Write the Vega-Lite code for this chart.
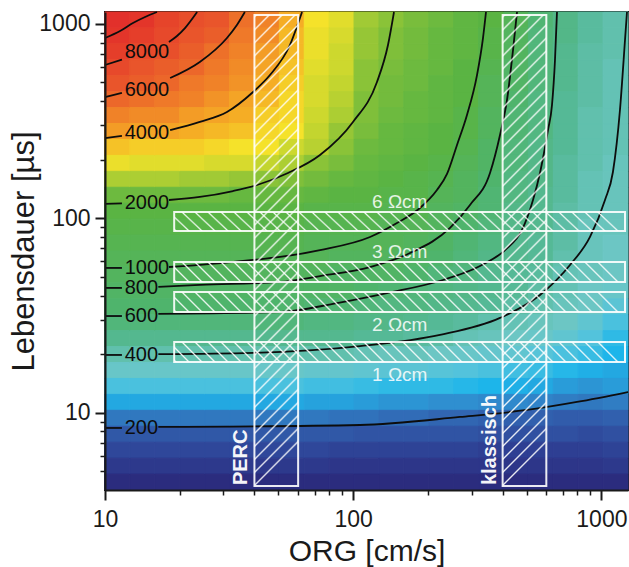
{
"$schema":"https://vega.github.io/schema/vega-lite/v6.json",
"width":523,"height":478,
"autosize":{"type":"none"},
"padding":{"left":105,"top":12,"right":1,"bottom":77},
"background":"white",
"config":{"view":{"stroke":"#1a1a1a","strokeWidth":2},"font":"Liberation Sans"},
"datasets":{
"heat":[
{"s":11.2,"t":1046,"v":100},{"s":11.2,"t":867,"v":98},{"s":11.2,"t":717,"v":96},{"s":11.2,"t":594,"v":94},{"s":11.2,"t":492,"v":92},{"s":11.2,"t":407,"v":90},{"s":11.2,"t":337,"v":87},{"s":11.2,"t":279,"v":84},{"s":11.2,"t":231,"v":80},{"s":11.2,"t":191,"v":76},{"s":11.2,"t":159,"v":70},{"s":11.2,"t":131,"v":63},{"s":11.2,"t":109,"v":60},{"s":11.2,"t":90,"v":59},{"s":11.2,"t":74.5,"v":58},{"s":11.2,"t":61.7,"v":57},{"s":11.2,"t":51.1,"v":56},{"s":11.2,"t":42.3,"v":55},{"s":11.2,"t":35,"v":54},{"s":11.2,"t":29,"v":52},{"s":11.2,"t":24,"v":49},{"s":11.2,"t":19.9,"v":45},{"s":11.2,"t":16.5,"v":41},{"s":11.2,"t":13.6,"v":35},{"s":11.2,"t":11.3,"v":28},{"s":11.2,"t":9.35,"v":20},{"s":11.2,"t":7.74,"v":14},{"s":11.2,"t":6.41,"v":10},{"s":11.2,"t":5.31,"v":6},{"s":11.2,"t":4.4,"v":2},
{"s":14.1,"t":1046,"v":98},{"s":14.1,"t":867,"v":96},{"s":14.1,"t":717,"v":94},{"s":14.1,"t":594,"v":92},{"s":14.1,"t":492,"v":91},{"s":14.1,"t":407,"v":89},{"s":14.1,"t":337,"v":86},{"s":14.1,"t":279,"v":83},{"s":14.1,"t":231,"v":79},{"s":14.1,"t":191,"v":75},{"s":14.1,"t":159,"v":70},{"s":14.1,"t":131,"v":63},{"s":14.1,"t":109,"v":60},{"s":14.1,"t":90,"v":59},{"s":14.1,"t":74.5,"v":58},{"s":14.1,"t":61.7,"v":57},{"s":14.1,"t":51.1,"v":56},{"s":14.1,"t":42.3,"v":55},{"s":14.1,"t":35,"v":54},{"s":14.1,"t":29,"v":52},{"s":14.1,"t":24,"v":49},{"s":14.1,"t":19.9,"v":45},{"s":14.1,"t":16.5,"v":41},{"s":14.1,"t":13.6,"v":35},{"s":14.1,"t":11.3,"v":28},{"s":14.1,"t":9.35,"v":20},{"s":14.1,"t":7.74,"v":14},{"s":14.1,"t":6.41,"v":10},{"s":14.1,"t":5.31,"v":6},{"s":14.1,"t":4.4,"v":2},
{"s":17.8,"t":1046,"v":95},{"s":17.8,"t":867,"v":94},{"s":17.8,"t":717,"v":93},{"s":17.8,"t":594,"v":91},{"s":17.8,"t":492,"v":90},{"s":17.8,"t":407,"v":88},{"s":17.8,"t":337,"v":86},{"s":17.8,"t":279,"v":83},{"s":17.8,"t":231,"v":79},{"s":17.8,"t":191,"v":75},{"s":17.8,"t":159,"v":70},{"s":17.8,"t":131,"v":63},{"s":17.8,"t":109,"v":60},{"s":17.8,"t":90,"v":59},{"s":17.8,"t":74.5,"v":58},{"s":17.8,"t":61.7,"v":57},{"s":17.8,"t":51.1,"v":56},{"s":17.8,"t":42.3,"v":55},{"s":17.8,"t":35,"v":54},{"s":17.8,"t":29,"v":52},{"s":17.8,"t":24,"v":49},{"s":17.8,"t":19.9,"v":45},{"s":17.8,"t":16.5,"v":41},{"s":17.8,"t":13.6,"v":35},{"s":17.8,"t":11.3,"v":28},{"s":17.8,"t":9.35,"v":20},{"s":17.8,"t":7.74,"v":14},{"s":17.8,"t":6.41,"v":10},{"s":17.8,"t":5.31,"v":6},{"s":17.8,"t":4.4,"v":2},
{"s":22.5,"t":1046,"v":93},{"s":22.5,"t":867,"v":92},{"s":22.5,"t":717,"v":91},{"s":22.5,"t":594,"v":90},{"s":22.5,"t":492,"v":88},{"s":22.5,"t":407,"v":87},{"s":22.5,"t":337,"v":84},{"s":22.5,"t":279,"v":82},{"s":22.5,"t":231,"v":79},{"s":22.5,"t":191,"v":75},{"s":22.5,"t":159,"v":69},{"s":22.5,"t":131,"v":63},{"s":22.5,"t":109,"v":60},{"s":22.5,"t":90,"v":59},{"s":22.5,"t":74.5,"v":58},{"s":22.5,"t":61.7,"v":57},{"s":22.5,"t":51.1,"v":56},{"s":22.5,"t":42.3,"v":55},{"s":22.5,"t":35,"v":54},{"s":22.5,"t":29,"v":52},{"s":22.5,"t":24,"v":49},{"s":22.5,"t":19.9,"v":45},{"s":22.5,"t":16.5,"v":41},{"s":22.5,"t":13.6,"v":35},{"s":22.5,"t":11.3,"v":28},{"s":22.5,"t":9.35,"v":20},{"s":22.5,"t":7.74,"v":14},{"s":22.5,"t":6.41,"v":10},{"s":22.5,"t":5.31,"v":6},{"s":22.5,"t":4.4,"v":2},
{"s":28.3,"t":1046,"v":92},{"s":28.3,"t":867,"v":91},{"s":28.3,"t":717,"v":89},{"s":28.3,"t":594,"v":88},{"s":28.3,"t":492,"v":87},{"s":28.3,"t":407,"v":85},{"s":28.3,"t":337,"v":83},{"s":28.3,"t":279,"v":81},{"s":28.3,"t":231,"v":78},{"s":28.3,"t":191,"v":74},{"s":28.3,"t":159,"v":69},{"s":28.3,"t":131,"v":63},{"s":28.3,"t":109,"v":60},{"s":28.3,"t":90,"v":59},{"s":28.3,"t":74.5,"v":58},{"s":28.3,"t":61.7,"v":57},{"s":28.3,"t":51.1,"v":56},{"s":28.3,"t":42.3,"v":55},{"s":28.3,"t":35,"v":54},{"s":28.3,"t":29,"v":52},{"s":28.3,"t":24,"v":49},{"s":28.3,"t":19.9,"v":45},{"s":28.3,"t":16.5,"v":41},{"s":28.3,"t":13.6,"v":35},{"s":28.3,"t":11.3,"v":28},{"s":28.3,"t":9.35,"v":20},{"s":28.3,"t":7.74,"v":14},{"s":28.3,"t":6.41,"v":10},{"s":28.3,"t":5.31,"v":6},{"s":28.3,"t":4.4,"v":2},
{"s":35.6,"t":1046,"v":89},{"s":35.6,"t":867,"v":88},{"s":35.6,"t":717,"v":87},{"s":35.6,"t":594,"v":86},{"s":35.6,"t":492,"v":85},{"s":35.6,"t":407,"v":83},{"s":35.6,"t":337,"v":82},{"s":35.6,"t":279,"v":80},{"s":35.6,"t":231,"v":77},{"s":35.6,"t":191,"v":74},{"s":35.6,"t":159,"v":68},{"s":35.6,"t":131,"v":62},{"s":35.6,"t":109,"v":60},{"s":35.6,"t":90,"v":59},{"s":35.6,"t":74.5,"v":58},{"s":35.6,"t":61.7,"v":57},{"s":35.6,"t":51.1,"v":56},{"s":35.6,"t":42.3,"v":55},{"s":35.6,"t":35,"v":54},{"s":35.6,"t":29,"v":52},{"s":35.6,"t":24,"v":49},{"s":35.6,"t":19.9,"v":45},{"s":35.6,"t":16.5,"v":41},{"s":35.6,"t":13.6,"v":35},{"s":35.6,"t":11.3,"v":28},{"s":35.6,"t":9.35,"v":20},{"s":35.6,"t":7.74,"v":14},{"s":35.6,"t":6.41,"v":10},{"s":35.6,"t":5.31,"v":6},{"s":35.6,"t":4.4,"v":2},
{"s":44.9,"t":1046,"v":87},{"s":44.9,"t":867,"v":86},{"s":44.9,"t":717,"v":84},{"s":44.9,"t":594,"v":83},{"s":44.9,"t":492,"v":82},{"s":44.9,"t":407,"v":81},{"s":44.9,"t":337,"v":79},{"s":44.9,"t":279,"v":78},{"s":44.9,"t":231,"v":77},{"s":44.9,"t":191,"v":72},{"s":44.9,"t":159,"v":67},{"s":44.9,"t":131,"v":62},{"s":44.9,"t":109,"v":60},{"s":44.9,"t":90,"v":59},{"s":44.9,"t":74.5,"v":58},{"s":44.9,"t":61.7,"v":57},{"s":44.9,"t":51.1,"v":56},{"s":44.9,"t":42.3,"v":55},{"s":44.9,"t":35,"v":54},{"s":44.9,"t":29,"v":52},{"s":44.9,"t":24,"v":49},{"s":44.9,"t":19.9,"v":45},{"s":44.9,"t":16.5,"v":41},{"s":44.9,"t":13.6,"v":35},{"s":44.9,"t":11.3,"v":28},{"s":44.9,"t":9.35,"v":20},{"s":44.9,"t":7.74,"v":14},{"s":44.9,"t":6.41,"v":10},{"s":44.9,"t":5.31,"v":6},{"s":44.9,"t":4.4,"v":2},
{"s":56.6,"t":1046,"v":82},{"s":56.6,"t":867,"v":81},{"s":56.6,"t":717,"v":81},{"s":56.6,"t":594,"v":80},{"s":56.6,"t":492,"v":79},{"s":56.6,"t":407,"v":78},{"s":56.6,"t":337,"v":78},{"s":56.6,"t":279,"v":77},{"s":56.6,"t":231,"v":73},{"s":56.6,"t":191,"v":70},{"s":56.6,"t":159,"v":66},{"s":56.6,"t":131,"v":62},{"s":56.6,"t":109,"v":60},{"s":56.6,"t":90,"v":59},{"s":56.6,"t":74.5,"v":58},{"s":56.6,"t":61.7,"v":57},{"s":56.6,"t":51.1,"v":56},{"s":56.6,"t":42.3,"v":55},{"s":56.6,"t":35,"v":54},{"s":56.6,"t":29,"v":52},{"s":56.6,"t":24,"v":49},{"s":56.6,"t":19.9,"v":45},{"s":56.6,"t":16.5,"v":41},{"s":56.6,"t":13.6,"v":35},{"s":56.6,"t":11.3,"v":28},{"s":56.6,"t":9.35,"v":20},{"s":56.6,"t":7.74,"v":14},{"s":56.6,"t":6.41,"v":10},{"s":56.6,"t":5.31,"v":6},{"s":56.6,"t":4.4,"v":2},
{"s":71.3,"t":1046,"v":77},{"s":71.3,"t":867,"v":76},{"s":71.3,"t":717,"v":76},{"s":71.3,"t":594,"v":75},{"s":71.3,"t":492,"v":74},{"s":71.3,"t":407,"v":74},{"s":71.3,"t":337,"v":73},{"s":71.3,"t":279,"v":72},{"s":71.3,"t":231,"v":71},{"s":71.3,"t":191,"v":67},{"s":71.3,"t":159,"v":64},{"s":71.3,"t":131,"v":61},{"s":71.3,"t":109,"v":59},{"s":71.3,"t":90,"v":58},{"s":71.3,"t":74.5,"v":57},{"s":71.3,"t":61.7,"v":57},{"s":71.3,"t":51.1,"v":56},{"s":71.3,"t":42.3,"v":55},{"s":71.3,"t":35,"v":53},{"s":71.3,"t":29,"v":51},{"s":71.3,"t":24,"v":49},{"s":71.3,"t":19.9,"v":45},{"s":71.3,"t":16.5,"v":40},{"s":71.3,"t":13.6,"v":34},{"s":71.3,"t":11.3,"v":27},{"s":71.3,"t":9.35,"v":20},{"s":71.3,"t":7.74,"v":14},{"s":71.3,"t":6.41,"v":10},{"s":71.3,"t":5.31,"v":6},{"s":71.3,"t":4.4,"v":2},
{"s":89.8,"t":1046,"v":75},{"s":89.8,"t":867,"v":74},{"s":89.8,"t":717,"v":73},{"s":89.8,"t":594,"v":73},{"s":89.8,"t":492,"v":72},{"s":89.8,"t":407,"v":71},{"s":89.8,"t":337,"v":70},{"s":89.8,"t":279,"v":68},{"s":89.8,"t":231,"v":67},{"s":89.8,"t":191,"v":65},{"s":89.8,"t":159,"v":62},{"s":89.8,"t":131,"v":60},{"s":89.8,"t":109,"v":59},{"s":89.8,"t":90,"v":58},{"s":89.8,"t":74.5,"v":57},{"s":89.8,"t":61.7,"v":56},{"s":89.8,"t":51.1,"v":55},{"s":89.8,"t":42.3,"v":55},{"s":89.8,"t":35,"v":53},{"s":89.8,"t":29,"v":51},{"s":89.8,"t":24,"v":49},{"s":89.8,"t":19.9,"v":45},{"s":89.8,"t":16.5,"v":40},{"s":89.8,"t":13.6,"v":34},{"s":89.8,"t":11.3,"v":27},{"s":89.8,"t":9.35,"v":19},{"s":89.8,"t":7.74,"v":14},{"s":89.8,"t":6.41,"v":9},{"s":89.8,"t":5.31,"v":5},{"s":89.8,"t":4.4,"v":2},
{"s":113,"t":1046,"v":69},{"s":113,"t":867,"v":68},{"s":113,"t":717,"v":68},{"s":113,"t":594,"v":67},{"s":113,"t":492,"v":67},{"s":113,"t":407,"v":66},{"s":113,"t":337,"v":66},{"s":113,"t":279,"v":65},{"s":113,"t":231,"v":63},{"s":113,"t":191,"v":62},{"s":113,"t":159,"v":61},{"s":113,"t":131,"v":60},{"s":113,"t":109,"v":59},{"s":113,"t":90,"v":58},{"s":113,"t":74.5,"v":57},{"s":113,"t":61.7,"v":56},{"s":113,"t":51.1,"v":55},{"s":113,"t":42.3,"v":54},{"s":113,"t":35,"v":52},{"s":113,"t":29,"v":50},{"s":113,"t":24,"v":48},{"s":113,"t":19.9,"v":44},{"s":113,"t":16.5,"v":39},{"s":113,"t":13.6,"v":33},{"s":113,"t":11.3,"v":26},{"s":113,"t":9.35,"v":19},{"s":113,"t":7.74,"v":13},{"s":113,"t":6.41,"v":9},{"s":113,"t":5.31,"v":5},{"s":113,"t":4.4,"v":2},
{"s":143,"t":1046,"v":67},{"s":143,"t":867,"v":66},{"s":143,"t":717,"v":66},{"s":143,"t":594,"v":65},{"s":143,"t":492,"v":64},{"s":143,"t":407,"v":64},{"s":143,"t":337,"v":63},{"s":143,"t":279,"v":62},{"s":143,"t":231,"v":62},{"s":143,"t":191,"v":61},{"s":143,"t":159,"v":60},{"s":143,"t":131,"v":59},{"s":143,"t":109,"v":58},{"s":143,"t":90,"v":57},{"s":143,"t":74.5,"v":57},{"s":143,"t":61.7,"v":56},{"s":143,"t":51.1,"v":55},{"s":143,"t":42.3,"v":53},{"s":143,"t":35,"v":51},{"s":143,"t":29,"v":50},{"s":143,"t":24,"v":48},{"s":143,"t":19.9,"v":43},{"s":143,"t":16.5,"v":38},{"s":143,"t":13.6,"v":32},{"s":143,"t":11.3,"v":25},{"s":143,"t":9.35,"v":18},{"s":143,"t":7.74,"v":13},{"s":143,"t":6.41,"v":9},{"s":143,"t":5.31,"v":5},{"s":143,"t":4.4,"v":2},
{"s":180,"t":1046,"v":65},{"s":180,"t":867,"v":64},{"s":180,"t":717,"v":64},{"s":180,"t":594,"v":63},{"s":180,"t":492,"v":63},{"s":180,"t":407,"v":62},{"s":180,"t":337,"v":62},{"s":180,"t":279,"v":61},{"s":180,"t":231,"v":61},{"s":180,"t":191,"v":60},{"s":180,"t":159,"v":59},{"s":180,"t":131,"v":59},{"s":180,"t":109,"v":58},{"s":180,"t":90,"v":57},{"s":180,"t":74.5,"v":56},{"s":180,"t":61.7,"v":55},{"s":180,"t":51.1,"v":54},{"s":180,"t":42.3,"v":52},{"s":180,"t":35,"v":51},{"s":180,"t":29,"v":49},{"s":180,"t":24,"v":47},{"s":180,"t":19.9,"v":43},{"s":180,"t":16.5,"v":38},{"s":180,"t":13.6,"v":32},{"s":180,"t":11.3,"v":25},{"s":180,"t":9.35,"v":18},{"s":180,"t":7.74,"v":13},{"s":180,"t":6.41,"v":9},{"s":180,"t":5.31,"v":5},{"s":180,"t":4.4,"v":2},
{"s":226,"t":1046,"v":63},{"s":226,"t":867,"v":62},{"s":226,"t":717,"v":62},{"s":226,"t":594,"v":62},{"s":226,"t":492,"v":61},{"s":226,"t":407,"v":61},{"s":226,"t":337,"v":61},{"s":226,"t":279,"v":60},{"s":226,"t":231,"v":60},{"s":226,"t":191,"v":59},{"s":226,"t":159,"v":58},{"s":226,"t":131,"v":57},{"s":226,"t":109,"v":56},{"s":226,"t":90,"v":56},{"s":226,"t":74.5,"v":55},{"s":226,"t":61.7,"v":54},{"s":226,"t":51.1,"v":52},{"s":226,"t":42.3,"v":51},{"s":226,"t":35,"v":50},{"s":226,"t":29,"v":48},{"s":226,"t":24,"v":46},{"s":226,"t":19.9,"v":42},{"s":226,"t":16.5,"v":37},{"s":226,"t":13.6,"v":32},{"s":226,"t":11.3,"v":24},{"s":226,"t":9.35,"v":17},{"s":226,"t":7.74,"v":13},{"s":226,"t":6.41,"v":9},{"s":226,"t":5.31,"v":5},{"s":226,"t":4.4,"v":2},
{"s":285,"t":1046,"v":61},{"s":285,"t":867,"v":61},{"s":285,"t":717,"v":61},{"s":285,"t":594,"v":60},{"s":285,"t":492,"v":60},{"s":285,"t":407,"v":60},{"s":285,"t":337,"v":59},{"s":285,"t":279,"v":59},{"s":285,"t":231,"v":58},{"s":285,"t":191,"v":57},{"s":285,"t":159,"v":56},{"s":285,"t":131,"v":56},{"s":285,"t":109,"v":55},{"s":285,"t":90,"v":54},{"s":285,"t":74.5,"v":53},{"s":285,"t":61.7,"v":52},{"s":285,"t":51.1,"v":51},{"s":285,"t":42.3,"v":50},{"s":285,"t":35,"v":49},{"s":285,"t":29,"v":47},{"s":285,"t":24,"v":44},{"s":285,"t":19.9,"v":41},{"s":285,"t":16.5,"v":36},{"s":285,"t":13.6,"v":31},{"s":285,"t":11.3,"v":24},{"s":285,"t":9.35,"v":17},{"s":285,"t":7.74,"v":13},{"s":285,"t":6.41,"v":9},{"s":285,"t":5.31,"v":5},{"s":285,"t":4.4,"v":2},
{"s":359,"t":1046,"v":60},{"s":359,"t":867,"v":59},{"s":359,"t":717,"v":59},{"s":359,"t":594,"v":58},{"s":359,"t":492,"v":57},{"s":359,"t":407,"v":57},{"s":359,"t":337,"v":56},{"s":359,"t":279,"v":56},{"s":359,"t":231,"v":55},{"s":359,"t":191,"v":55},{"s":359,"t":159,"v":54},{"s":359,"t":131,"v":53},{"s":359,"t":109,"v":53},{"s":359,"t":90,"v":52},{"s":359,"t":74.5,"v":51},{"s":359,"t":61.7,"v":50},{"s":359,"t":51.1,"v":49},{"s":359,"t":42.3,"v":49},{"s":359,"t":35,"v":48},{"s":359,"t":29,"v":45},{"s":359,"t":24,"v":43},{"s":359,"t":19.9,"v":40},{"s":359,"t":16.5,"v":35},{"s":359,"t":13.6,"v":30},{"s":359,"t":11.3,"v":23},{"s":359,"t":9.35,"v":16},{"s":359,"t":7.74,"v":12},{"s":359,"t":6.41,"v":8},{"s":359,"t":5.31,"v":5},{"s":359,"t":4.4,"v":2},
{"s":453,"t":1046,"v":57},{"s":453,"t":867,"v":56},{"s":453,"t":717,"v":56},{"s":453,"t":594,"v":55},{"s":453,"t":492,"v":55},{"s":453,"t":407,"v":54},{"s":453,"t":337,"v":53},{"s":453,"t":279,"v":53},{"s":453,"t":231,"v":52},{"s":453,"t":191,"v":52},{"s":453,"t":159,"v":51},{"s":453,"t":131,"v":51},{"s":453,"t":109,"v":50},{"s":453,"t":90,"v":50},{"s":453,"t":74.5,"v":49},{"s":453,"t":61.7,"v":49},{"s":453,"t":51.1,"v":48},{"s":453,"t":42.3,"v":48},{"s":453,"t":35,"v":46},{"s":453,"t":29,"v":44},{"s":453,"t":24,"v":42},{"s":453,"t":19.9,"v":39},{"s":453,"t":16.5,"v":34},{"s":453,"t":13.6,"v":29},{"s":453,"t":11.3,"v":23},{"s":453,"t":9.35,"v":16},{"s":453,"t":7.74,"v":12},{"s":453,"t":6.41,"v":8},{"s":453,"t":5.31,"v":5},{"s":453,"t":4.4,"v":2},
{"s":570,"t":1046,"v":53},{"s":570,"t":867,"v":52},{"s":570,"t":717,"v":52},{"s":570,"t":594,"v":52},{"s":570,"t":492,"v":52},{"s":570,"t":407,"v":51},{"s":570,"t":337,"v":51},{"s":570,"t":279,"v":51},{"s":570,"t":231,"v":50},{"s":570,"t":191,"v":50},{"s":570,"t":159,"v":50},{"s":570,"t":131,"v":49},{"s":570,"t":109,"v":49},{"s":570,"t":90,"v":49},{"s":570,"t":74.5,"v":48},{"s":570,"t":61.7,"v":48},{"s":570,"t":51.1,"v":47},{"s":570,"t":42.3,"v":46},{"s":570,"t":35,"v":45},{"s":570,"t":29,"v":43},{"s":570,"t":24,"v":41},{"s":570,"t":19.9,"v":37},{"s":570,"t":16.5,"v":33},{"s":570,"t":13.6,"v":28},{"s":570,"t":11.3,"v":22},{"s":570,"t":9.35,"v":16},{"s":570,"t":7.74,"v":12},{"s":570,"t":6.41,"v":8},{"s":570,"t":5.31,"v":5},{"s":570,"t":4.4,"v":2},
{"s":719,"t":1046,"v":50},{"s":719,"t":867,"v":50},{"s":719,"t":717,"v":49},{"s":719,"t":594,"v":49},{"s":719,"t":492,"v":49},{"s":719,"t":407,"v":48},{"s":719,"t":337,"v":48},{"s":719,"t":279,"v":48},{"s":719,"t":231,"v":48},{"s":719,"t":191,"v":47},{"s":719,"t":159,"v":47},{"s":719,"t":131,"v":47},{"s":719,"t":109,"v":46},{"s":719,"t":90,"v":46},{"s":719,"t":74.5,"v":46},{"s":719,"t":61.7,"v":45},{"s":719,"t":51.1,"v":44},{"s":719,"t":42.3,"v":44},{"s":719,"t":35,"v":43},{"s":719,"t":29,"v":42},{"s":719,"t":24,"v":39},{"s":719,"t":19.9,"v":35},{"s":719,"t":16.5,"v":31},{"s":719,"t":13.6,"v":26},{"s":719,"t":11.3,"v":21},{"s":719,"t":9.35,"v":15},{"s":719,"t":7.74,"v":12},{"s":719,"t":6.41,"v":8},{"s":719,"t":5.31,"v":5},{"s":719,"t":4.4,"v":2},
{"s":905,"t":1046,"v":47},{"s":905,"t":867,"v":47},{"s":905,"t":717,"v":46},{"s":905,"t":594,"v":46},{"s":905,"t":492,"v":46},{"s":905,"t":407,"v":46},{"s":905,"t":337,"v":45},{"s":905,"t":279,"v":45},{"s":905,"t":231,"v":45},{"s":905,"t":191,"v":45},{"s":905,"t":159,"v":44},{"s":905,"t":131,"v":44},{"s":905,"t":109,"v":44},{"s":905,"t":90,"v":43},{"s":905,"t":74.5,"v":43},{"s":905,"t":61.7,"v":43},{"s":905,"t":51.1,"v":43},{"s":905,"t":42.3,"v":42},{"s":905,"t":35,"v":42},{"s":905,"t":29,"v":39},{"s":905,"t":24,"v":36},{"s":905,"t":19.9,"v":33},{"s":905,"t":16.5,"v":29},{"s":905,"t":13.6,"v":25},{"s":905,"t":11.3,"v":20},{"s":905,"t":9.35,"v":15},{"s":905,"t":7.74,"v":11},{"s":905,"t":6.41,"v":8},{"s":905,"t":5.31,"v":5},{"s":905,"t":4.4,"v":2},
{"s":1141,"t":1046,"v":45},{"s":1141,"t":867,"v":45},{"s":1141,"t":717,"v":45},{"s":1141,"t":594,"v":44},{"s":1141,"t":492,"v":44},{"s":1141,"t":407,"v":44},{"s":1141,"t":337,"v":44},{"s":1141,"t":279,"v":44},{"s":1141,"t":231,"v":44},{"s":1141,"t":191,"v":43},{"s":1141,"t":159,"v":43},{"s":1141,"t":131,"v":43},{"s":1141,"t":109,"v":43},{"s":1141,"t":90,"v":43},{"s":1141,"t":74.5,"v":42},{"s":1141,"t":61.7,"v":42},{"s":1141,"t":51.1,"v":42},{"s":1141,"t":42.3,"v":41},{"s":1141,"t":35,"v":38},{"s":1141,"t":29,"v":35},{"s":1141,"t":24,"v":32},{"s":1141,"t":19.9,"v":30},{"s":1141,"t":16.5,"v":28},{"s":1141,"t":13.6,"v":26},{"s":1141,"t":11.3,"v":21},{"s":1141,"t":9.35,"v":16},{"s":1141,"t":7.74,"v":12},{"s":1141,"t":6.41,"v":9},{"s":1141,"t":5.31,"v":6},{"s":1141,"t":4.4,"v":2}
],
"lines":[
{"g":"k10","s":10,"t":845},{"g":"k10","s":11.5,"t":918},{"g":"k10","s":12.96,"t":1009},{"g":"k10","s":14.5,"t":1084},{"g":"k10","s":16.2,"t":1150},
{"g":"a8","s":10,"t":614},{"g":"a8","s":11.7,"t":655},
{"g":"b8","s":18.1,"t":806},{"g":"b8","s":19.5,"t":866},{"g":"b8","s":21.0,"t":951},{"g":"b8","s":23.5,"t":1150},
{"g":"a6","s":10,"t":420},{"g":"a6","s":11.7,"t":441},
{"g":"b6","s":18.3,"t":526},{"g":"b6","s":24.1,"t":636},{"g":"b6","s":31.0,"t":845},{"g":"b6","s":34.0,"t":986},{"g":"b6","s":36.6,"t":1150},
{"g":"a4","s":10,"t":258},{"g":"a4","s":11.7,"t":265},
{"g":"b4","s":18.3,"t":284},{"g":"b4","s":24.1,"t":313},{"g":"b4","s":31.0,"t":352},{"g":"b4","s":39.5,"t":446},{"g":"b4","s":46.2,"t":545},{"g":"b4","s":55.6,"t":778},{"g":"b4","s":62.2,"t":1150},
{"g":"a2","s":10,"t":118.4},{"g":"a2","s":11.7,"t":119.1},
{"g":"b2","s":18.1,"t":124.1},{"g":"b2","s":24.1,"t":128.6},{"g":"b2","s":32.8,"t":138},{"g":"b2","s":41.0,"t":148.2},{"g":"b2","s":54.6,"t":170.9},{"g":"b2","s":73.5,"t":211.4},{"g":"b2","s":99.8,"t":312.6},{"g":"b2","s":124.7,"t":501.9},{"g":"b2","s":138.1,"t":778},{"g":"b2","s":146,"t":1150},
{"g":"a1","s":10,"t":55.5},{"g":"a1","s":11.7,"t":55.5},
{"g":"b1","s":18.1,"t":56.1},{"g":"b1","s":24.1,"t":57.5},{"g":"b1","s":39.5,"t":61.0},{"g":"b1","s":50.7,"t":63.2},{"g":"b1","s":73.5,"t":68.6},{"g":"b1","s":116.9,"t":80.1},{"g":"b1","s":150.1,"t":94.5},{"g":"b1","s":185.8,"t":112.9},{"g":"b1","s":217.5,"t":139.7},{"g":"b1","s":238.8,"t":168.9},{"g":"b1","s":262,"t":238.1},{"g":"b1","s":287.4,"t":339.6},{"g":"b1","s":315.4,"t":545},{"g":"b1","s":333.4,"t":845},{"g":"b1","s":342.8,"t":1150},
{"g":"a08","s":10,"t":43.8},{"g":"a08","s":11.7,"t":43.8},
{"g":"b08","s":16.4,"t":44.3},{"g":"b08","s":24.1,"t":45.4},{"g":"b08","s":50.7,"t":47.0},{"g":"b08","s":73.5,"t":50.4},{"g":"b08","s":116.9,"t":56.1},{"g":"b08","s":169.4,"t":66.2},{"g":"b08","s":245.5,"t":89.1},{"g":"b08","s":295.5,"t":117},{"g":"b08","s":355.8,"t":170.9},{"g":"b08","s":390.4,"t":267.9},{"g":"b08","s":416.6,"t":405.6},{"g":"b08","s":440.5,"t":733},{"g":"b08","s":457.1,"t":1150},
{"g":"a06","s":10,"t":31.4},{"g":"a06","s":11.7,"t":31.4},
{"g":"b06","s":16.4,"t":32.2},{"g":"b06","s":50.7,"t":32.9},{"g":"b06","s":86,"t":36.6},{"g":"b06","s":136.8,"t":41.2},{"g":"b06","s":230,"t":48.1},{"g":"b06","s":324.3,"t":56.8},{"g":"b06","s":408.9,"t":68.6},{"g":"b06","s":478.7,"t":87},{"g":"b06","s":530.2,"t":124.1},{"g":"b06","s":565.6,"t":170.9},{"g":"b06","s":609.3,"t":284.2},{"g":"b06","s":632.4,"t":382.3},{"g":"b06","s":650.2,"t":651.4},{"g":"b06","s":662.4,"t":1150},
{"g":"a04","s":10,"t":19.8},{"g":"a04","s":11.7,"t":19.8},
{"g":"b04","s":16.4,"t":20.0},{"g":"b04","s":39.5,"t":20.3},{"g":"b04","s":106.5,"t":22.0},{"g":"b04","s":223.7,"t":25.1},{"g":"b04","s":390.4,"t":30.7},{"g":"b04","s":565.6,"t":40.3},{"g":"b04","s":747.3,"t":57.5},{"g":"b04","s":899.8,"t":80.1},{"g":"b04","s":1034,"t":124.1},{"g":"b04","s":1113,"t":172.9},{"g":"b04","s":1188,"t":360.3},{"g":"b04","s":1245,"t":825},{"g":"b04","s":1268,"t":1150},
{"g":"a02","s":10,"t":8.34},{"g":"a02","s":11.7,"t":8.34},
{"g":"b02","s":16.4,"t":8.44},{"g":"b02","s":106.5,"t":8.64},{"g":"b02","s":269.3,"t":9.5},{"g":"b02","s":501.3,"t":10.32},{"g":"b02","s":797.6,"t":11.35},{"g":"b02","s":1280,"t":12.77}
]
},
"layer":[
{"data":{"name":"heat"},
 "mark":{"type":"rect","strokeWidth":1},
 "encoding":{
  "x":{"field":"s","type":"ordinal","scale":{"paddingInner":0,"paddingOuter":0},"axis":null},
  "y":{"field":"t","type":"ordinal","sort":"descending","scale":{"paddingInner":0,"paddingOuter":0},"axis":null},
  "fill":{"field":"v","type":"quantitative","legend":null,"scale":{"type":"linear","interpolate":"rgb","domain":[0,8,16,24,30,36,42,48,54,60,66,72,77,82,87,92,97,100],"range":["#2a2677","#2e3f93","#3160ae","#2f8fd0","#1db5ea","#53c3dc","#6cc6c4","#55b996","#4fb46c","#5ab443","#7fbf3a","#c3d52f","#f5e22a","#f5ad25","#f08228","#e9552b","#e4382a","#e2302b"]}},
  "stroke":{"field":"v","type":"quantitative","legend":null,"scale":{"type":"linear","interpolate":"rgb","domain":[0,8,16,24,30,36,42,48,54,60,66,72,77,82,87,92,97,100],"range":["#2a2677","#2e3f93","#3160ae","#2f8fd0","#1db5ea","#53c3dc","#6cc6c4","#55b996","#4fb46c","#5ab443","#7fbf3a","#c3d52f","#f5e22a","#f5ad25","#f08228","#e9552b","#e4382a","#e2302b"]}}
 }},
{"data":{"name":"lines"},
 "mark":{"type":"line","color":"#0d0d0d","strokeWidth":1.8,"interpolate":"monotone"},
 "encoding":{
  "x":{"field":"s","type":"quantitative","scale":{"type":"log","domain":[10,1280],"nice":false},
   "axis":{"values":[10,20,30,40,50,60,70,80,90,100,200,300,400,500,600,700,800,900,1000],"format":"d",
    "labelExpr":"datum.value==10||datum.value==100||datum.value==1000 ? datum.label : ''",
    "tickSize":{"condition":{"test":"datum.value==10||datum.value==100||datum.value==1000","value":10},"value":5},
    "tickWidth":{"condition":{"test":"datum.value==10||datum.value==100||datum.value==1000","value":2},"value":1.5},
    "tickColor":"#1a1a1a","domainColor":"#1a1a1a","domainWidth":2,"grid":false,"zindex":1,
    "labelFontSize":23,"labelColor":"#1a1a1a","labelFont":"Liberation Sans","labelPadding":8,"labelFlush":false,"labelOverlap":false,
    "title":"ORG [cm/s]","titleFontSize":30,"titleFontWeight":"normal","titleColor":"#1a1a1a","titleFont":"Liberation Sans","titleBaseline":"alphabetic","titleY":70}},
  "y":{"field":"t","type":"quantitative","scale":{"type":"log","domain":[4,1150],"nice":false},
   "axis":{"values":[5,6,7,8,9,10,20,30,40,50,60,70,80,90,100,200,300,400,500,600,700,800,900,1000],"format":"d",
    "labelExpr":"datum.value==10||datum.value==100||datum.value==1000 ? datum.label : ''",
    "tickSize":{"condition":{"test":"datum.value==10||datum.value==100||datum.value==1000","value":10},"value":5},
    "tickWidth":{"condition":{"test":"datum.value==10||datum.value==100||datum.value==1000","value":2},"value":1.5},
    "tickColor":"#1a1a1a","domainColor":"#1a1a1a","domainWidth":2,"grid":false,"zindex":1,
    "labelFontSize":23,"labelColor":"#1a1a1a","labelFont":"Liberation Sans","labelPadding":5,"labelFlush":false,"labelOverlap":false,
    "title":"Lebensdauer [µs]","titleFontSize":31,"titleFontWeight":"normal","titleColor":"#1a1a1a","titleFont":"Liberation Sans","titleAngle":270,"titleAlign":"center","titleBaseline":"alphabetic","titleX":-72,"titleY":239}},
  "detail":{"field":"g"}
 }},
{"data":{"values":[{"s":40,"s2":60,"t":4.2,"t2":1110},{"s":400,"s2":600,"t":4.2,"t2":1110}]},
 "mark":{"type":"rect","stroke":"white","strokeWidth":2,"strokeOpacity":0.9,"fillOpacity":0.9,
  "fill":{"gradient":"linear","x1":0,"y1":0,"x2":0.0934,"y2":1,"stops":[
{"offset":0,"color":"rgba(255,255,255,0)"},{"offset":0.004,"color":"#fff"},{"offset":0.008,"color":"rgba(255,255,255,0)"},
{"offset":0.0274,"color":"rgba(255,255,255,0)"},{"offset":0.0314,"color":"#fff"},{"offset":0.0354,"color":"rgba(255,255,255,0)"},
{"offset":0.0548,"color":"rgba(255,255,255,0)"},{"offset":0.0588,"color":"#fff"},{"offset":0.0628,"color":"rgba(255,255,255,0)"},
{"offset":0.0822,"color":"rgba(255,255,255,0)"},{"offset":0.0862,"color":"#fff"},{"offset":0.0902,"color":"rgba(255,255,255,0)"},
{"offset":0.1096,"color":"rgba(255,255,255,0)"},{"offset":0.1136,"color":"#fff"},{"offset":0.1176,"color":"rgba(255,255,255,0)"},
{"offset":0.137,"color":"rgba(255,255,255,0)"},{"offset":0.141,"color":"#fff"},{"offset":0.145,"color":"rgba(255,255,255,0)"},
{"offset":0.1644,"color":"rgba(255,255,255,0)"},{"offset":0.1684,"color":"#fff"},{"offset":0.1724,"color":"rgba(255,255,255,0)"},
{"offset":0.1918,"color":"rgba(255,255,255,0)"},{"offset":0.1958,"color":"#fff"},{"offset":0.1998,"color":"rgba(255,255,255,0)"},
{"offset":0.2192,"color":"rgba(255,255,255,0)"},{"offset":0.2232,"color":"#fff"},{"offset":0.2272,"color":"rgba(255,255,255,0)"},
{"offset":0.2466,"color":"rgba(255,255,255,0)"},{"offset":0.2506,"color":"#fff"},{"offset":0.2546,"color":"rgba(255,255,255,0)"},
{"offset":0.274,"color":"rgba(255,255,255,0)"},{"offset":0.278,"color":"#fff"},{"offset":0.282,"color":"rgba(255,255,255,0)"},
{"offset":0.3014,"color":"rgba(255,255,255,0)"},{"offset":0.3054,"color":"#fff"},{"offset":0.3094,"color":"rgba(255,255,255,0)"},
{"offset":0.3288,"color":"rgba(255,255,255,0)"},{"offset":0.3328,"color":"#fff"},{"offset":0.3368,"color":"rgba(255,255,255,0)"},
{"offset":0.3562,"color":"rgba(255,255,255,0)"},{"offset":0.3602,"color":"#fff"},{"offset":0.3642,"color":"rgba(255,255,255,0)"},
{"offset":0.3836,"color":"rgba(255,255,255,0)"},{"offset":0.3876,"color":"#fff"},{"offset":0.3916,"color":"rgba(255,255,255,0)"},
{"offset":0.411,"color":"rgba(255,255,255,0)"},{"offset":0.415,"color":"#fff"},{"offset":0.419,"color":"rgba(255,255,255,0)"},
{"offset":0.4384,"color":"rgba(255,255,255,0)"},{"offset":0.4424,"color":"#fff"},{"offset":0.4464,"color":"rgba(255,255,255,0)"},
{"offset":0.4658,"color":"rgba(255,255,255,0)"},{"offset":0.4698,"color":"#fff"},{"offset":0.4738,"color":"rgba(255,255,255,0)"},
{"offset":0.4932,"color":"rgba(255,255,255,0)"},{"offset":0.4972,"color":"#fff"},{"offset":0.5012,"color":"rgba(255,255,255,0)"},
{"offset":0.5206,"color":"rgba(255,255,255,0)"},{"offset":0.5246,"color":"#fff"},{"offset":0.5286,"color":"rgba(255,255,255,0)"},
{"offset":0.548,"color":"rgba(255,255,255,0)"},{"offset":0.552,"color":"#fff"},{"offset":0.556,"color":"rgba(255,255,255,0)"},
{"offset":0.5754,"color":"rgba(255,255,255,0)"},{"offset":0.5794,"color":"#fff"},{"offset":0.5834,"color":"rgba(255,255,255,0)"},
{"offset":0.6028,"color":"rgba(255,255,255,0)"},{"offset":0.6068,"color":"#fff"},{"offset":0.6108,"color":"rgba(255,255,255,0)"},
{"offset":0.6302,"color":"rgba(255,255,255,0)"},{"offset":0.6342,"color":"#fff"},{"offset":0.6382,"color":"rgba(255,255,255,0)"},
{"offset":0.6576,"color":"rgba(255,255,255,0)"},{"offset":0.6616,"color":"#fff"},{"offset":0.6656,"color":"rgba(255,255,255,0)"},
{"offset":0.685,"color":"rgba(255,255,255,0)"},{"offset":0.689,"color":"#fff"},{"offset":0.693,"color":"rgba(255,255,255,0)"},
{"offset":0.7124,"color":"rgba(255,255,255,0)"},{"offset":0.7164,"color":"#fff"},{"offset":0.7204,"color":"rgba(255,255,255,0)"},
{"offset":0.7398,"color":"rgba(255,255,255,0)"},{"offset":0.7438,"color":"#fff"},{"offset":0.7478,"color":"rgba(255,255,255,0)"},
{"offset":0.7672,"color":"rgba(255,255,255,0)"},{"offset":0.7712,"color":"#fff"},{"offset":0.7752,"color":"rgba(255,255,255,0)"},
{"offset":0.7946,"color":"rgba(255,255,255,0)"},{"offset":0.7986,"color":"#fff"},{"offset":0.8026,"color":"rgba(255,255,255,0)"},
{"offset":0.822,"color":"rgba(255,255,255,0)"},{"offset":0.826,"color":"#fff"},{"offset":0.83,"color":"rgba(255,255,255,0)"},
{"offset":0.8494,"color":"rgba(255,255,255,0)"},{"offset":0.8534,"color":"#fff"},{"offset":0.8574,"color":"rgba(255,255,255,0)"},
{"offset":0.8768,"color":"rgba(255,255,255,0)"},{"offset":0.8808,"color":"#fff"},{"offset":0.8848,"color":"rgba(255,255,255,0)"},
{"offset":0.9042,"color":"rgba(255,255,255,0)"},{"offset":0.9082,"color":"#fff"},{"offset":0.9122,"color":"rgba(255,255,255,0)"},
{"offset":0.9316,"color":"rgba(255,255,255,0)"},{"offset":0.9356,"color":"#fff"},{"offset":0.9396,"color":"rgba(255,255,255,0)"},
{"offset":0.959,"color":"rgba(255,255,255,0)"},{"offset":0.963,"color":"#fff"},{"offset":0.967,"color":"rgba(255,255,255,0)"},
{"offset":0.9864,"color":"rgba(255,255,255,0)"},{"offset":0.9904,"color":"#fff"},{"offset":0.9944,"color":"rgba(255,255,255,0)"},
{"offset":1,"color":"rgba(255,255,255,0)"}]}},
 "encoding":{
  "x":{"field":"s","type":"quantitative","scale":{"type":"log","domain":[10,1280],"nice":false},"axis":null},
  "x2":{"field":"s2"},
  "y":{"field":"t","type":"quantitative","scale":{"type":"log","domain":[4,1150],"nice":false},"axis":null},
  "y2":{"field":"t2"}
 }},
{"data":{"values":[{"s":19,"s2":1245,"t":86,"t2":107.6},{"s":19,"s2":1245,"t":47,"t2":59.5},{"s":19,"s2":1245,"t":32.9,"t2":41.7},{"s":19,"s2":1245,"t":18.2,"t2":23.1}]},
 "mark":{"type":"rect","stroke":"white","strokeWidth":2,"strokeOpacity":0.9,"fillOpacity":0.9,
  "fill":{"gradient":"linear","x1":0,"y1":1,"x2":1,"y2":0.9557,"stops":[
{"offset":0,"color":"rgba(255,255,255,0)"},{"offset":0.004,"color":"#fff"},{"offset":0.008,"color":"rgba(255,255,255,0)"},
{"offset":0.0288,"color":"rgba(255,255,255,0)"},{"offset":0.0328,"color":"#fff"},{"offset":0.0368,"color":"rgba(255,255,255,0)"},
{"offset":0.0575,"color":"rgba(255,255,255,0)"},{"offset":0.0615,"color":"#fff"},{"offset":0.0655,"color":"rgba(255,255,255,0)"},
{"offset":0.0863,"color":"rgba(255,255,255,0)"},{"offset":0.0903,"color":"#fff"},{"offset":0.0943,"color":"rgba(255,255,255,0)"},
{"offset":0.1151,"color":"rgba(255,255,255,0)"},{"offset":0.1191,"color":"#fff"},{"offset":0.1231,"color":"rgba(255,255,255,0)"},
{"offset":0.1439,"color":"rgba(255,255,255,0)"},{"offset":0.1479,"color":"#fff"},{"offset":0.1519,"color":"rgba(255,255,255,0)"},
{"offset":0.1726,"color":"rgba(255,255,255,0)"},{"offset":0.1766,"color":"#fff"},{"offset":0.1806,"color":"rgba(255,255,255,0)"},
{"offset":0.2014,"color":"rgba(255,255,255,0)"},{"offset":0.2054,"color":"#fff"},{"offset":0.2094,"color":"rgba(255,255,255,0)"},
{"offset":0.2302,"color":"rgba(255,255,255,0)"},{"offset":0.2342,"color":"#fff"},{"offset":0.2382,"color":"rgba(255,255,255,0)"},
{"offset":0.2589,"color":"rgba(255,255,255,0)"},{"offset":0.2629,"color":"#fff"},{"offset":0.2669,"color":"rgba(255,255,255,0)"},
{"offset":0.2877,"color":"rgba(255,255,255,0)"},{"offset":0.2917,"color":"#fff"},{"offset":0.2957,"color":"rgba(255,255,255,0)"},
{"offset":0.3165,"color":"rgba(255,255,255,0)"},{"offset":0.3205,"color":"#fff"},{"offset":0.3245,"color":"rgba(255,255,255,0)"},
{"offset":0.3452,"color":"rgba(255,255,255,0)"},{"offset":0.3492,"color":"#fff"},{"offset":0.3532,"color":"rgba(255,255,255,0)"},
{"offset":0.374,"color":"rgba(255,255,255,0)"},{"offset":0.378,"color":"#fff"},{"offset":0.382,"color":"rgba(255,255,255,0)"},
{"offset":0.4028,"color":"rgba(255,255,255,0)"},{"offset":0.4068,"color":"#fff"},{"offset":0.4108,"color":"rgba(255,255,255,0)"},
{"offset":0.4316,"color":"rgba(255,255,255,0)"},{"offset":0.4356,"color":"#fff"},{"offset":0.4396,"color":"rgba(255,255,255,0)"},
{"offset":0.4603,"color":"rgba(255,255,255,0)"},{"offset":0.4643,"color":"#fff"},{"offset":0.4683,"color":"rgba(255,255,255,0)"},
{"offset":0.4891,"color":"rgba(255,255,255,0)"},{"offset":0.4931,"color":"#fff"},{"offset":0.4971,"color":"rgba(255,255,255,0)"},
{"offset":0.5179,"color":"rgba(255,255,255,0)"},{"offset":0.5219,"color":"#fff"},{"offset":0.5259,"color":"rgba(255,255,255,0)"},
{"offset":0.5466,"color":"rgba(255,255,255,0)"},{"offset":0.5506,"color":"#fff"},{"offset":0.5546,"color":"rgba(255,255,255,0)"},
{"offset":0.5754,"color":"rgba(255,255,255,0)"},{"offset":0.5794,"color":"#fff"},{"offset":0.5834,"color":"rgba(255,255,255,0)"},
{"offset":0.6042,"color":"rgba(255,255,255,0)"},{"offset":0.6082,"color":"#fff"},{"offset":0.6122,"color":"rgba(255,255,255,0)"},
{"offset":0.6329,"color":"rgba(255,255,255,0)"},{"offset":0.6369,"color":"#fff"},{"offset":0.6409,"color":"rgba(255,255,255,0)"},
{"offset":0.6617,"color":"rgba(255,255,255,0)"},{"offset":0.6657,"color":"#fff"},{"offset":0.6697,"color":"rgba(255,255,255,0)"},
{"offset":0.6905,"color":"rgba(255,255,255,0)"},{"offset":0.6945,"color":"#fff"},{"offset":0.6985,"color":"rgba(255,255,255,0)"},
{"offset":0.7193,"color":"rgba(255,255,255,0)"},{"offset":0.7233,"color":"#fff"},{"offset":0.7273,"color":"rgba(255,255,255,0)"},
{"offset":0.748,"color":"rgba(255,255,255,0)"},{"offset":0.752,"color":"#fff"},{"offset":0.756,"color":"rgba(255,255,255,0)"},
{"offset":0.7768,"color":"rgba(255,255,255,0)"},{"offset":0.7808,"color":"#fff"},{"offset":0.7848,"color":"rgba(255,255,255,0)"},
{"offset":0.8056,"color":"rgba(255,255,255,0)"},{"offset":0.8096,"color":"#fff"},{"offset":0.8136,"color":"rgba(255,255,255,0)"},
{"offset":0.8343,"color":"rgba(255,255,255,0)"},{"offset":0.8383,"color":"#fff"},{"offset":0.8423,"color":"rgba(255,255,255,0)"},
{"offset":0.8631,"color":"rgba(255,255,255,0)"},{"offset":0.8671,"color":"#fff"},{"offset":0.8711,"color":"rgba(255,255,255,0)"},
{"offset":0.8919,"color":"rgba(255,255,255,0)"},{"offset":0.8959,"color":"#fff"},{"offset":0.8999,"color":"rgba(255,255,255,0)"},
{"offset":0.9206,"color":"rgba(255,255,255,0)"},{"offset":0.9246,"color":"#fff"},{"offset":0.9286,"color":"rgba(255,255,255,0)"},
{"offset":0.9494,"color":"rgba(255,255,255,0)"},{"offset":0.9534,"color":"#fff"},{"offset":0.9574,"color":"rgba(255,255,255,0)"},
{"offset":0.9782,"color":"rgba(255,255,255,0)"},{"offset":0.9822,"color":"#fff"},{"offset":0.9862,"color":"rgba(255,255,255,0)"},
{"offset":1,"color":"rgba(255,255,255,0)"}]}},
 "encoding":{
  "x":{"field":"s","type":"quantitative","scale":{"type":"log","domain":[10,1280],"nice":false},"axis":null},
  "x2":{"field":"s2"},
  "y":{"field":"t","type":"quantitative","scale":{"type":"log","domain":[4,1150],"nice":false},"axis":null},
  "y2":{"field":"t2"}
 }},
{"data":{"values":[{"s":12,"t":718,"lab":"8000"},{"s":12,"t":456,"lab":"6000"},{"s":12,"t":274,"lab":"4000"},{"s":12,"t":119.8,"lab":"2000"},{"s":12,"t":55.5,"lab":"1000"},{"s":12,"t":43.8,"lab":"800"},{"s":12,"t":31.4,"lab":"600"},{"s":12,"t":19.8,"lab":"400"},{"s":12,"t":8.34,"lab":"200"}]},
 "mark":{"type":"text","align":"left","baseline":"middle","fontSize":20,"font":"Liberation Sans","color":"#0d0d0d"},
 "encoding":{
  "x":{"field":"s","type":"quantitative","scale":{"type":"log","domain":[10,1280],"nice":false},"axis":null},
  "y":{"field":"t","type":"quantitative","scale":{"type":"log","domain":[4,1150],"nice":false},"axis":null},
  "text":{"field":"lab"}
 }},
{"data":{"values":[{"s":154,"t":121.2,"lab":"6 Ωcm"},{"s":154,"t":67,"lab":"3 Ωcm"},{"s":154,"t":28.2,"lab":"2 Ωcm"},{"s":154,"t":15.6,"lab":"1 Ωcm"}]},
 "mark":{"type":"text","align":"center","baseline":"middle","fontSize":19,"font":"Liberation Sans","color":"white","opacity":0.85},
 "encoding":{
  "x":{"field":"s","type":"quantitative","scale":{"type":"log","domain":[10,1280],"nice":false},"axis":null},
  "y":{"field":"t","type":"quantitative","scale":{"type":"log","domain":[4,1150],"nice":false},"axis":null},
  "text":{"field":"lab"}
 }},
{"data":{"values":[{"s":35.3,"t":4.24,"lab":"PERC"},{"s":357,"t":4.24,"lab":"klassisch"}]},
 "mark":{"type":"text","align":"left","baseline":"middle","angle":270,"fontSize":20,"fontWeight":"bold","font":"Liberation Sans","color":"white","opacity":0.95},
 "encoding":{
  "x":{"field":"s","type":"quantitative","scale":{"type":"log","domain":[10,1280],"nice":false},"axis":null},
  "y":{"field":"t","type":"quantitative","scale":{"type":"log","domain":[4,1150],"nice":false},"axis":null},
  "text":{"field":"lab"}
 }}
],
"resolve":{"scale":{"x":"independent","y":"independent"}}
}
